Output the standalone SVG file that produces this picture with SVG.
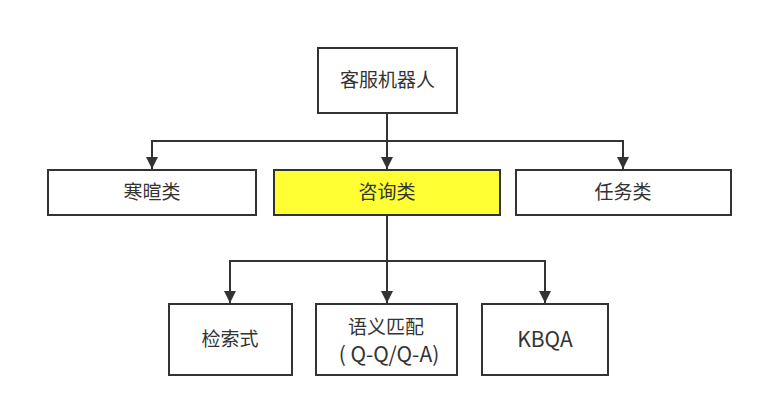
<svg xmlns="http://www.w3.org/2000/svg" width="761" height="407" viewBox="0 0 761 407">
<style>
.box{fill:#fff;stroke:#333;stroke-width:2}
.hl{fill:#ffff33}
.t{font-family:"Noto Sans CJK SC","Noto Sans",sans-serif;font-size:19px;fill:#333;text-anchor:middle}
.l{font-size:21px}
.c{fill:none;stroke:#333;stroke-width:2}
</style>
<defs>
<marker id="ah" markerWidth="12" markerHeight="12" refX="12" refY="6" orient="auto" markerUnits="userSpaceOnUse" viewBox="0 0 12 12">
<path d="M0,0 L12,6 L0,12 Z" fill="#333"/>
</marker>
</defs>
<rect width="761" height="407" fill="#fff"/>
<g id="connectors">
<path class="c" d="M387,113 V169" marker-end="url(#ah)"/>
<path class="c" d="M387,141 H152 V169" marker-end="url(#ah)"/>
<path class="c" d="M387,141 H623 V169" marker-end="url(#ah)"/>
<path class="c" d="M387,216 V303" marker-end="url(#ah)"/>
<path class="c" d="M387,261 H230 V303" marker-end="url(#ah)"/>
<path class="c" d="M387,261 H545 V303" marker-end="url(#ah)"/>
</g>
<g id="n-root"><rect class="box" x="318" y="48" width="139" height="65"/><text class="t" x="387.5" y="87">客服机器人</text></g>
<g id="n-greet"><rect class="box" x="48" y="170" width="208" height="45"/><text class="t" x="152" y="199">寒暄类</text></g>
<g id="n-consult"><rect class="box hl" x="274" y="170" width="226" height="45"/><text class="t" x="387" y="199">咨询类</text></g>
<g id="n-task"><rect class="box" x="516" y="170" width="215" height="45"/><text class="t" x="623" y="199">任务类</text></g>
<g id="n-retrieval"><rect class="box" x="169" y="304" width="123" height="71"/><text class="t" x="230" y="346">检索式</text></g>
<g id="n-semantic"><rect class="box" x="316" y="304" width="141" height="71"/><text class="t" x="386" y="334">语义匹配</text><text class="t l" x="389" y="362">( Q-Q/Q-A)</text></g>
<g id="n-kbqa"><rect class="box" x="482" y="304" width="126" height="71"/><text class="t l" x="545" y="347">KBQA</text></g>
</svg>
